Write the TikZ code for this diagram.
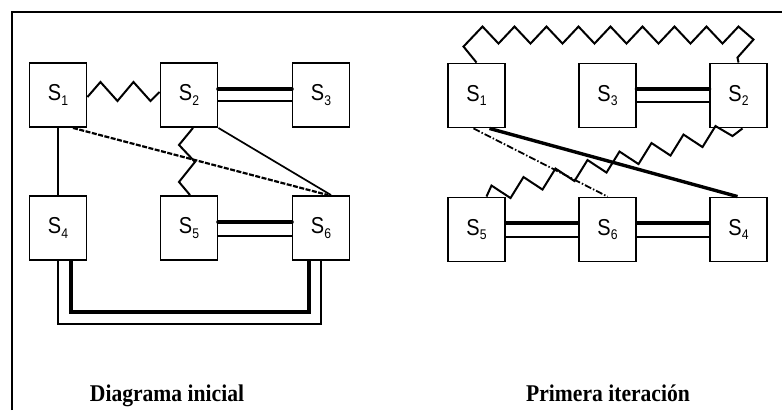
\documentclass[tikz,border=0pt]{standalone}
\usepackage{fontspec}
\setmainfont{Liberation Serif}
\setsansfont{Liberation Sans}

\newcommand{\sname}[1]{\scalebox{0.87}[1]{S\raisebox{-4.5pt}{\fontsize{14}{14}\selectfont #1}}}

\tikzset{
  caja/.style={draw,line width=1.9pt,minimum width=57pt,minimum height=64pt,inner sep=0,
    font=\sffamily\fontsize{23}{23}\selectfont},
  fuerte/.style={line width=4.5pt},
  fino/.style={line width=1.7pt},
  resorte/.style={line width=2pt,line join=miter},
  rayado/.style={line width=2.2pt,dash pattern=on 5pt off 1.5pt},
  rayapunto/.style={line width=1.8pt,dash pattern=on 7pt off 2pt on 1.5pt off 2pt},
  titulo/.style={anchor=base,font=\bfseries\fontsize{24}{24}\selectfont}
}

\begin{document}
\begin{tikzpicture}[x=1pt,y=-1pt]
    \useasboundingbox (0,0) rectangle (782,410);
    \draw[fino] (12,410) -- (12,12) -- (782,12);

    % diagrama inicial
    \node[caja] (L1) at (58,95) {\sname{1}};
    \node[caja] (L2) at (189,95) {\sname{2}};
    \node[caja] (L3) at (321,95) {\sname{3}};
    \node[caja] (L4) at (58,228) {\sname{4}};
    \node[caja] (L5) at (189,228) {\sname{5}};
    \node[caja] (L6) at (321,228) {\sname{6}};

    \draw[resorte] ([yshift=-2pt]L1.east) -- ++(13,-15) -- ++(17,19) -- ++(16,-19) -- ++(17,19) -- ([yshift=3pt]L2.west);
    \draw[fuerte,line cap=round] ([yshift=6pt]L2.east) -- ([yshift=6pt]L3.west);
    \draw[fino] ([yshift=-6pt]L2.east) -- ([yshift=-6pt]L3.west);
    \draw[line width=2.4pt] (L1.south) -- (L4.north);
    \draw[rayado] ([xshift=15pt]L1.south) -- ([xshift=7pt]L6.north);
    \draw[fino] (L2.south east) -- ([xshift=10pt]L6.north);
    \draw[resorte] ([xshift=4pt]L2.south) -- ++(-14,17) -- ++(16,17) -- ++(-16,20) -- ([xshift=1pt]L5.north);
    \draw[fuerte,line cap=round] ([yshift=6pt]L5.east) -- ([yshift=6pt]L6.west);
    \draw[fino] ([yshift=-8pt]L5.east) -- ([yshift=-8pt]L6.west);
    \draw[fuerte] ([xshift=13pt]L4.south) -- ++(0,51) -| ([xshift=-12pt]L6.south);
    \draw[fino] (L4.south) -- ++(0,63) -| (L6.south);

    \node[titulo] (t1) at (167,401) {\scalebox{0.9}[1]{Diagrama inicial}};

    % primera iteracion
    \node[caja] (R1) at (476.5,95.5) {\sname{1}};
    \node[caja] (R3) at (607.5,95.5) {\sname{3}};
    \node[caja] (R2) at (738.5,95.5) {\sname{2}};
    \node[caja] (R5) at (476.5,229.5) {\sname{5}};
    \node[caja] (R6) at (607.5,229.5) {\sname{6}};
    \node[caja] (R4) at (738.5,229.5) {\sname{4}};

    \draw[resorte] (R1.north) -- ++(-13,-16) -- ++(19,-20)
      \foreach \k in {1,...,8}{ -- ++(16,17) -- ++(16,-17)} -- ++(15,13) -- ++(-16,18) -- (R2.north);
    \draw[fuerte,line cap=round] ([yshift=6.5pt]R3.east) -- ([yshift=6.5pt]R2.west);
    \draw[fino] ([yshift=-6.5pt]R3.east) -- ([yshift=-6.5pt]R2.west);
    \draw[line width=3.4pt] ([xshift=13pt]R1.south) -- ([xshift=-1pt]R4.north);
    \draw[rayapunto] ([xshift=-3pt]R1.south) -- (R6.north);
    \draw[resorte] ([xshift=10pt]R5.north) -- ++(5,-11)
      \foreach \k in {1,...,7}{ -- ++(19,12.5) -- ++(13,-21)} -- ++(17,10) -- ([xshift=4pt]R2.south);
    \draw[fuerte] ([yshift=6.5pt]R5.east) -- ([yshift=6.5pt]R6.west);
    \draw[fino] ([yshift=-7.5pt]R5.east) -- ([yshift=-7.5pt]R6.west);
    \draw[fuerte] ([yshift=6.5pt]R6.east) -- ([yshift=6.5pt]R4.west);
    \draw[fino] ([yshift=-7.5pt]R6.east) -- ([yshift=-7.5pt]R4.west);

    \node[titulo] (t2) at (608,401) {\scalebox{0.9}[1]{Primera iteración}};
\end{tikzpicture}
\end{document}
